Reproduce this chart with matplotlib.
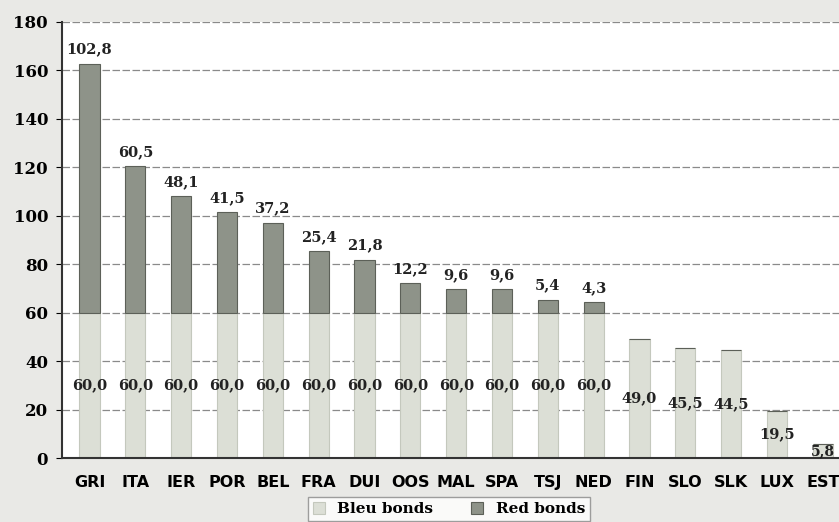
import numpy as np
import matplotlib.pyplot as plt

countries = ['GRI', 'ITA', 'IER', 'POR', 'BEL', 'FRA', 'DUI', 'OOS', 'MAL',
             'SPA', 'TSJ', 'NED', 'FIN', 'SLO', 'SLK', 'LUX', 'EST']
bleu = [60.0, 60.0, 60.0, 60.0, 60.0, 60.0, 60.0, 60.0, 60.0,
        60.0, 60.0, 60.0, 49.0, 45.5, 44.5, 19.5, 5.8]
red = [102.8, 60.5, 48.1, 41.5, 37.2, 25.4, 21.8, 12.2, 9.6,
       9.6, 5.4, 4.3, 0, 0, 0, 0, 0]
yticks = [0, 20, 40, 60, 80, 100, 120, 140, 160, 180]


def fmt(v):
    return f'{v:.1f}'.replace('.', ',')


fig = plt.figure(figsize=(8.39, 5.22), dpi=100, facecolor='#e9e9e6')
ax = fig.add_axes([0.0739, 0.1226, 0.926, 0.8354])
ax.set_facecolor('white')

x = np.arange(len(countries))
b1 = ax.bar(x, bleu, width=0.44, color='#dcdfd6', edgecolor='#c4c8bd',
            linewidth=0.8, label='Bleu bonds', zorder=2)
b2 = ax.bar(x, red, width=0.44, bottom=bleu, color='#8e9389',
            edgecolor='#5c6058', linewidth=0.8, label='Red bonds', zorder=2)

lab = dict(fontfamily='DejaVu Serif', fontweight='bold', fontsize=10.5,
           color='#222222', ha='center')
for i in range(len(countries)):
    fs = 10 if i == len(countries) - 1 else 10.5
    lab['fontsize'] = fs
    ax.text(x[i], bleu[i] / 2, fmt(bleu[i]), va='center', **lab)
    if red[i] > 0:
        ax.text(x[i], bleu[i] + red[i] + 3, fmt(red[i]), va='bottom', **lab)

ax.set_xlim(-0.6, 16.35)
ax.set_ylim(0, 180)
ax.set_yticks(yticks)
ax.set_yticklabels([str(t) for t in yticks], fontfamily='DejaVu Serif',
                   fontweight='bold', fontsize=12)
ax.set_xticks(x)
ax.set_xticklabels(countries, fontfamily='DejaVu Sans', fontweight='bold',
                   fontsize=11.5)
ax.tick_params(axis='x', length=0, pad=12)
ax.tick_params(axis='y', length=4, pad=6)
ax.yaxis.grid(True, color='#8a8a8a', linewidth=0.9, linestyle=(0, (6, 2)),
              zorder=0)
for s in ['top', 'right']:
    ax.spines[s].set_visible(False)
ax.spines['left'].set_color('#333333')
ax.spines['bottom'].set_color('#333333')
ax.spines['left'].set_linewidth(1.5)
ax.spines['bottom'].set_linewidth(1.5)

fig.legend(handles=[b1, b2], loc='lower left', bbox_to_anchor=(0.358, -0.012),
           ncol=2, frameon=True, fancybox=False, edgecolor='#888888',
           prop={'family': 'DejaVu Serif', 'weight': 'bold', 'size': 11},
           handlelength=0.8, handleheight=0.8, columnspacing=2.5,
           borderpad=0.3)

fig.savefig('out.png', dpi=100, facecolor=fig.get_facecolor())
